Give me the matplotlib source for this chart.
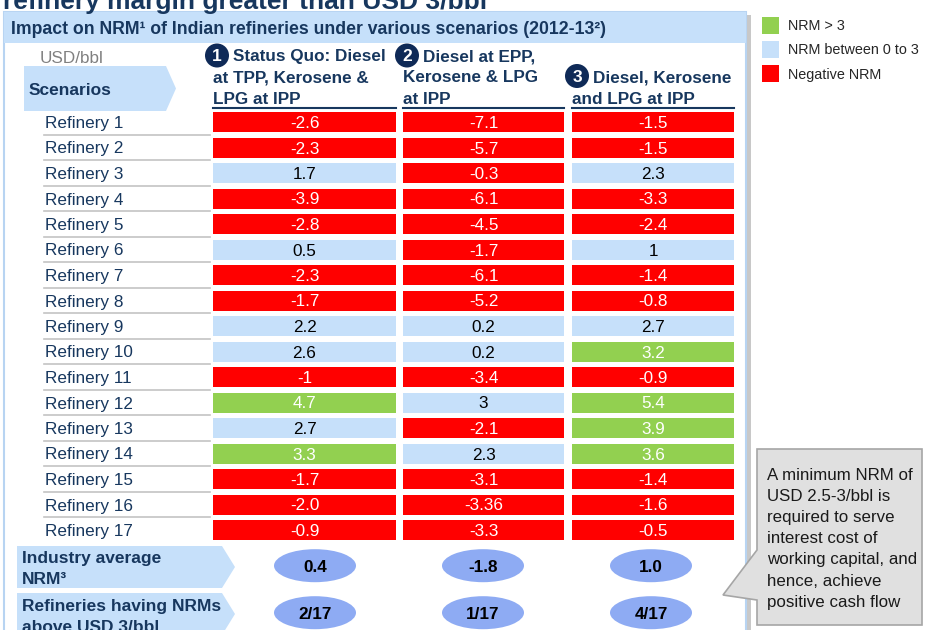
import matplotlib
matplotlib.use("Agg")
import matplotlib.pyplot as plt
from matplotlib.patches import Rectangle, Polygon, Circle, Ellipse

plt.rcParams['font.family'] = ['Liberation Sans', 'DejaVu Sans']

# data
refineries = ["Refinery %d" % i for i in range(1, 18)]
status_quo = ["-2.6", "-2.3", "1.7", "-3.9", "-2.8", "0.5", "-2.3", "-1.7", "2.2",
              "2.6", "-1", "4.7", "2.7", "3.3", "-1.7", "-2.0", "-0.9"]
diesel_epp = ["-7.1", "-5.7", "-0.3", "-6.1", "-4.5", "-1.7", "-6.1", "-5.2", "0.2",
              "0.2", "-3.4", "3", "-2.1", "2.3", "-3.1", "-3.36", "-3.3"]
all_ipp = ["-1.5", "-1.5", "2.3", "-3.3", "-2.4", "1", "-1.4", "-0.8", "2.7",
           "3.2", "-0.9", "5.4", "3.9", "3.6", "-1.4", "-1.6", "-0.5"]
scenario_values = [status_quo, diesel_epp, all_ipp]
scenario_titles = [["Status Quo: Diesel", "at TPP, Kerosene &", "LPG at IPP"],
                   ["Diesel at EPP,", "Kerosene & LPG", "at IPP"],
                   ["Diesel, Kerosene", "and LPG at IPP"]]
industry_avg = ["0.4", "-1.8", "1.0"]
above_3 = ["2/17", "1/17", "4/17"]
legend_labels = ["NRM > 3", "NRM between 0 to 3", "Negative NRM"]
callout_lines = ["A minimum NRM of", "USD 2.5-3/bbl is", "required to serve",
                 "interest cost of", "working capital, and", "hence, achieve",
                 "positive cash flow"]

NAVY = '#17375e'
DARK = '#0f2a57'
GREEN = '#92d050'
LBLUE = '#c6e0fa'
RED = '#ff0000'
ELL = '#8eabf3'

def cell_color(v):
    if v > 3:
        return GREEN
    if v >= 0:
        return LBLUE
    return RED

fig = plt.figure(figsize=(9.3, 6.3), dpi=100)
ax = fig.add_axes([0, 0, 1, 1])
ax.set_xlim(0, 930)
ax.set_ylim(630, 0)
ax.axis('off')

# title (cut at the top, as in the slide)
ax.text(3, 9, "refinery margin greater than USD 3/bbl", fontsize=19, fontweight='bold',
        color=NAVY, va='baseline')

# panel with shadow
ax.add_patch(Rectangle((7, 15), 744, 640, facecolor='#c8c8c8', edgecolor='none', zorder=0))
ax.add_patch(Rectangle((4, 12), 742, 640, facecolor='white', edgecolor='#b8d4f2', lw=1.5, zorder=1))
ax.add_patch(Rectangle((4, 12), 742, 31, facecolor=LBLUE, edgecolor='none', zorder=2))
ax.text(11, 34, "Impact on NRM\u00b9 of Indian refineries under various scenarios (2012-13\u00b2)",
        fontsize=12.7, fontweight='bold', color=NAVY, va='baseline', zorder=3)

ax.text(40, 63, "USD/bbl", fontsize=12.3, color='#808080', va='baseline', zorder=3)
ax.add_patch(Polygon([(24, 66), (166, 66), (176, 88.5), (166, 111), (24, 111)],
                     closed=True, facecolor=LBLUE, edgecolor='none', zorder=2))
ax.text(29, 95, "Scenarios", fontsize=12.5, fontweight='bold', color=NAVY, va='baseline', zorder=3)

# columns
col_x = [(213, 396), (403, 564), (572, 734)]
circle_pos = [(217, 55.5), (407, 55.5), (577, 76)]
text_x0 = [233, 423, 593]
row0, pitch, cell_h = 122, 25.5, 20

for c, (x0, x1) in enumerate(col_x):
    lines = scenario_titles[c]
    base = 104 - 21.5 * (len(lines) - 1)
    for k, line in enumerate(lines):
        tx = text_x0[c] if k == 0 else x0
        ax.text(tx, base + 21.5 * k, line, fontsize=12.3, fontweight='bold', color=NAVY,
                va='baseline', zorder=3)
    cx, cy = circle_pos[c]
    ax.add_patch(Circle((cx, cy), 12, facecolor=DARK, edgecolor='none', zorder=3))
    ax.text(cx, cy + 5.5, str(c + 1), fontsize=12.5, fontweight='bold', color='white',
            ha='center', va='baseline', zorder=4)
    ax.plot([x0, x1], [107.5, 107.5], color=NAVY, lw=1.5, zorder=3)

    for r, s in enumerate(scenario_values[c]):
        v = float(s)
        yc = row0 + pitch * r
        fc = cell_color(v)
        ax.add_patch(Rectangle((x0, yc - cell_h / 2), x1 - x0, cell_h, facecolor=fc,
                               edgecolor='none', zorder=2))
        ax.text((x0 + x1) / 2, yc + 6, s, fontsize=12.3, ha='center', va='baseline',
                color='black' if fc == LBLUE else 'white', zorder=3)

for r, name in enumerate(refineries):
    yc = row0 + pitch * r
    ax.text(45, yc + 6, name, fontsize=12.3, color=NAVY, va='baseline', zorder=3)
    if r < len(refineries) - 1:
        ax.plot([44, 210], [yc + 12.7, yc + 12.7], color='#c4c4c4', lw=1.2, zorder=3)

# summary rows
ax.add_patch(Polygon([(17, 546), (222, 546), (235, 567), (222, 588), (17, 588)],
                     closed=True, facecolor=LBLUE, edgecolor='none', zorder=2))
ax.text(22, 563, "Industry average", fontsize=12.5, fontweight='bold', color=NAVY, va='baseline', zorder=3)
ax.text(22, 584.5, "NRM\u00b3", fontsize=12.5, fontweight='bold', color=NAVY, va='baseline', zorder=3)
ax.add_patch(Polygon([(17, 593), (222, 593), (235, 614), (222, 635), (17, 635)],
                     closed=True, facecolor=LBLUE, edgecolor='none', zorder=2))
ax.text(22, 610.5, "Refineries having NRMs", fontsize=12.5, fontweight='bold', color=NAVY,
        va='baseline', zorder=3)
ax.text(22, 632, "above USD 3/bbl", fontsize=12.5, fontweight='bold', color=NAVY,
        va='baseline', zorder=3)

ell_x = [315, 483, 651]
for c in range(3):
    for yc, lab in [(565.7, industry_avg[c]), (612.7, above_3[c])]:
        ax.add_patch(Ellipse((ell_x[c], yc), 82, 33, facecolor=ELL, edgecolor='none', zorder=2))
        ax.text(ell_x[c], yc + 6.2, lab, fontsize=12.3, fontweight='bold', color='black',
                ha='center', va='baseline', zorder=3)

# legend
for k, (lab, col) in enumerate(zip(legend_labels, [GREEN, LBLUE, RED])):
    y0 = 17 + 24 * k
    ax.add_patch(Rectangle((762, y0), 17, 17, facecolor=col, edgecolor='none', zorder=2))
    ax.text(788, y0 + 13.5, lab, fontsize=10.4, color='#262626', va='baseline', zorder=3)

# callout
ax.add_patch(Polygon([(757, 449), (922, 449), (922, 625), (757, 625), (757, 600),
                      (723, 595), (757, 550)], closed=True, facecolor='#e0e0e0',
                     edgecolor='#a6a6a6', lw=1.2, zorder=4))
for k, line in enumerate(callout_lines):
    ax.text(767, 479.5 + 21.2 * k, line, fontsize=12.2, color='#1a1a1a', va='baseline', zorder=5)

fig.savefig('out.png', dpi=100)
